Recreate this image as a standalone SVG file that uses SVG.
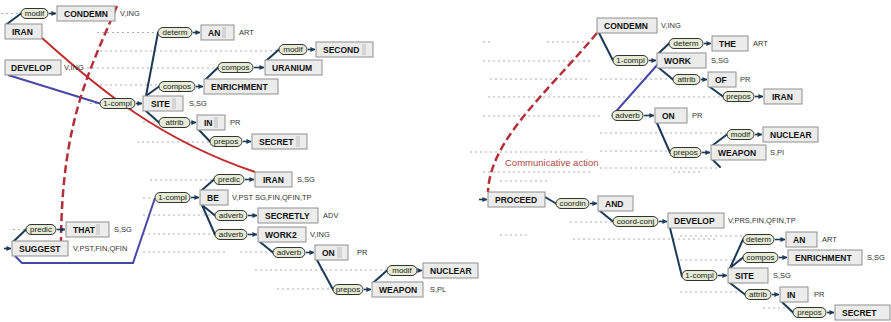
<svg xmlns="http://www.w3.org/2000/svg" width="891" height="322" viewBox="0 0 891 322">
<defs>
<marker id="ah" viewBox="0 0 6 6" refX="5.5" refY="3" markerWidth="5" markerHeight="5" markerUnits="userSpaceOnUse" orient="auto"><path d="M0,0 L6,3 L0,6 z" fill="#1c3a57"/></marker>
</defs>
<style>
.box{fill:#ececec;stroke:#8f8f8f;stroke-width:1}
.bt{font-family:"Liberation Sans",Arial,sans-serif;font-weight:bold;font-size:8.5px;fill:#111}
.cur{fill:#d4d4d4}
.lbl{font-family:"Liberation Sans",Arial,sans-serif;font-size:7.5px;fill:#333}
.pill{fill:#e5ebd5;stroke:#333;stroke-width:1}
.pt{font-family:"Liberation Sans",Arial,sans-serif;font-size:8px;fill:#222;text-anchor:middle}
.arr{stroke:#1c3a57;stroke-width:1.6;fill:none;marker-end:url(#ah)}
.tree{stroke:#1c3a57;stroke-width:2;fill:none;stroke-linecap:round}
.blue{stroke:#4848a6;stroke-width:2;fill:none}
.red{stroke:#c12d2d;stroke-width:2;fill:none}
.redd{stroke:#b3303a;stroke-width:2.5;fill:none;stroke-dasharray:8 4}
.guide{stroke:#adadad;stroke-width:1;stroke-dasharray:2 3;fill:none}
.ca{font-family:"Liberation Sans",Arial,sans-serif;font-size:9.5px;fill:#b04848}
</style>

<g id="guides">
<path class="guide" d="M1,13.5H20 M97,32.5H157 M100,51H278 M87,68H217 M100,85H158 M90,103.5H100 M143,122H158 M137,142H209 M150,180H213 M143,198H153 M143,215H214 M143,234H214 M143,252H227 M240,252H272 M255,270H386 M277,289H332 M13,229.5H25"/>
<path class="guide" d="M483,42H490 M547,42H585 M483,61H590 M490,79H590 M600,79H672 M488,97H722 M483,116H603 M600,133H726 M600,151H669 M600,168H720 M470,152H583 M483,172H593 M673,172H700 M500,181H550 M570,222H612 M500,235H527 M573,239H718 M680,236H742 M680,260H742 M680,292H745 M763,308H792"/>
</g>

<g id="connectors">
<path class="tree" d="M7,24L21,13.5 M146,96L158,32.5 M146,96L159,86.5 M206,79L218,67.5 M267,60L279,49.5 M146,111L159,122.5 M199,130L210,141.5 M202,190L214,179.5 M202,205L215,215.5 M202,205L215,234.5 M260,242L273,252.5 M317,260L333,289.5 M374,282L387,270.5 M14,241L26,229.5"/>
<path class="tree" d="M599,33L613,60.5 M659,53L669,43.5 M659,68L673,79.5 M710,87L723,96.5 M657,123L670,152.5 M713,145L727,134.5 M713,160L720,167 M545,197L556,203.5 M600,211L613,221.5 M670,228L682,276.5 M730,268L743,239.5 M730,268L743,257.5 M730,283L745,294.5 M782,302L793,312.5"/>
<path class="blue" d="M8,75L100,103.5 M15,256L22,263L133,263L155,198 M658,64L612,116"/>
<path class="red" d="M42,38C100,90 160,140 255,172"/>
<path class="redd" d="M117,6C90,70 62,120 61,241"/>
<path class="redd" d="M597,33C545,95 490,140 488,192"/>
<text class="ca" x="505" y="166">Communicative action</text>
<path class="arr" d="M4,248.5H11"/>
<path class="arr" d="M479,199.5H487"/>
</g>

<!-- LEFT TREE -->
<g id="l-condemn"><rect class="pill" x="21" y="8.5" width="27" height="10" rx="5"/><text class="pt" x="34.5" y="16.3">modif</text><path class="arr" d="M49,13.5H56"/>
<rect class="box" x="57" y="6" width="58" height="15"/><text class="bt" x="64" y="16.6">CONDEMN</text><text class="lbl" x="120" y="16.2">V,ING</text></g>
<g id="l-iran1"><rect class="box" x="5" y="24" width="37" height="15"/><text class="bt" x="12" y="34.6">IRAN</text></g>
<g id="l-develop"><rect class="box" x="5" y="60" width="56" height="15"/><text class="bt" x="11" y="70.6">DEVELOP</text><text class="lbl" x="64" y="70.2">V,ING</text></g>
<g id="l-site"><rect class="pill" x="100" y="98.5" width="35" height="10" rx="5"/><text class="pt" x="117.5" y="106.3">1-compl</text><path class="arr" d="M136,103.5H142"/>
<rect class="box" x="143" y="96" width="40" height="15"/><rect class="cur" x="172" y="98" width="4" height="11"/><text class="bt" x="151" y="106.6">SITE</text><text class="lbl" x="189" y="106.2">S,SG</text></g>
<g id="l-an"><rect class="pill" x="158" y="27.5" width="34" height="10" rx="5"/><text class="pt" x="175" y="35.3">determ</text><path class="arr" d="M193,32.5H200"/>
<rect class="box" x="201" y="25" width="33" height="15"/><rect class="cur" x="222" y="27" width="4" height="11"/><text class="bt" x="208" y="35.6">AN</text><text class="lbl" x="239" y="35.2">ART</text></g>
<g id="l-enrichment"><rect class="pill" x="159" y="81.5" width="36" height="10" rx="5"/><text class="pt" x="177" y="89.3">compos</text><path class="arr" d="M196,86.5H203"/>
<rect class="box" x="204" y="79" width="74" height="15"/><text class="bt" x="211" y="89.6">ENRICHMENT</text></g>
<g id="l-uranium"><rect class="pill" x="218" y="62.5" width="35" height="10" rx="5"/><text class="pt" x="235.5" y="70.3">compos</text><path class="arr" d="M254,67.5H264"/>
<rect class="box" x="265" y="60" width="57" height="15"/><text class="bt" x="272" y="70.6">URANIUM</text></g>
<g id="l-second"><rect class="pill" x="279" y="44.5" width="28" height="10" rx="5"/><text class="pt" x="293" y="52.3">modif</text><path class="arr" d="M308,49.5H315"/>
<rect class="box" x="316" y="42" width="57" height="15"/><rect class="cur" x="362" y="44" width="4" height="11"/><text class="bt" x="323" y="52.6">SECOND</text></g>
<g id="l-in"><rect class="pill" x="159" y="117.5" width="31" height="10" rx="5"/><text class="pt" x="174.5" y="125.3">attrib</text><path class="arr" d="M191,122.5H196"/>
<rect class="box" x="197" y="115" width="28" height="15"/><rect class="cur" x="214" y="117" width="4" height="11"/><text class="bt" x="204" y="125.6">IN</text><text class="lbl" x="230" y="125.2">PR</text></g>
<g id="l-secret"><rect class="pill" x="210" y="136.5" width="32" height="10" rx="5"/><text class="pt" x="226" y="144.3">prepos</text><path class="arr" d="M243,141.5H251"/>
<rect class="box" x="252" y="134" width="55" height="15"/><rect class="cur" x="296" y="136" width="4" height="11"/><text class="bt" x="259" y="144.6">SECRET</text></g>
<g id="l-iran2"><rect class="pill" x="214" y="174.5" width="30" height="10" rx="5"/><text class="pt" x="229" y="182.3">predic</text><path class="arr" d="M245,179.5H254"/>
<rect class="box" x="255" y="172" width="37" height="15"/><text class="bt" x="263" y="182.6">IRAN</text><text class="lbl" x="297" y="182.2">S,SG</text></g>
<g id="l-be"><rect class="pill" x="155" y="192.5" width="35" height="10" rx="5"/><text class="pt" x="172.5" y="200.3">1-compl</text><path class="arr" d="M191,197.5H199"/>
<rect class="box" x="200" y="190" width="28" height="15"/><text class="bt" x="207" y="200.6">BE</text><text class="lbl" x="232" y="200.2">V,PST SG,FIN,QFIN,TP</text></g>
<g id="l-secretly"><rect class="pill" x="215" y="210.5" width="32" height="10" rx="5"/><text class="pt" x="231" y="218.3">adverb</text><path class="arr" d="M248,215.5H257"/>
<rect class="box" x="258" y="208" width="60" height="15"/><text class="bt" x="265" y="218.6">SECRETLY</text><text class="lbl" x="323" y="218.2">ADV</text></g>
<g id="l-work2"><rect class="pill" x="215" y="229.5" width="32" height="10" rx="5"/><text class="pt" x="231" y="237.3">adverb</text><path class="arr" d="M248,234.5H257"/>
<rect class="box" x="258" y="227" width="48" height="15"/><text class="bt" x="265" y="237.6">WORK2</text><text class="lbl" x="310" y="237.2">V,ING</text></g>
<g id="l-on"><rect class="pill" x="273" y="247.5" width="32" height="10" rx="5"/><text class="pt" x="289" y="255.3">adverb</text><path class="arr" d="M306,252.5H314"/>
<rect class="box" x="315" y="245" width="33" height="15"/><rect class="cur" x="337" y="247" width="5" height="11"/><text class="bt" x="322" y="255.6">ON</text><text class="lbl" x="357" y="255.2">PR</text></g>
<g id="l-nuclear"><rect class="pill" x="387" y="265.5" width="30" height="10" rx="5"/><text class="pt" x="402" y="273.3">modif</text><path class="arr" d="M418,270.5H422"/>
<rect class="box" x="423" y="263" width="55" height="15"/><text class="bt" x="430" y="273.6">NUCLEAR</text></g>
<g id="l-weapon"><rect class="pill" x="333" y="284.5" width="30" height="10" rx="5"/><text class="pt" x="348" y="292.3">prepos</text><path class="arr" d="M364,289.5H371"/>
<rect class="box" x="372" y="282" width="51" height="15"/><text class="bt" x="379" y="292.6">WEAPON</text><text class="lbl" x="430" y="292.2">S,PL</text></g>
<g id="l-that"><rect class="pill" x="26" y="224.5" width="30" height="10" rx="5"/><text class="pt" x="41" y="232.3">predic</text><path class="arr" d="M57,229.5H65"/>
<rect class="box" x="66" y="222" width="43" height="15"/><rect class="cur" x="96" y="224" width="4" height="11"/><text class="bt" x="73" y="232.6">THAT</text><text class="lbl" x="114" y="232.2">S,SG</text></g>
<g id="l-suggest"><rect class="box" x="12" y="241" width="56" height="15"/><text class="bt" x="19" y="251.6">SUGGEST</text><text class="lbl" x="73" y="251.2">V,PST,FIN,QFIN</text></g>

<!-- RIGHT TREE -->
<g id="r-condemn"><rect class="box" x="597" y="18" width="60" height="15"/><text class="bt" x="604" y="28.6">CONDEMN</text><text class="lbl" x="661" y="28.2">V,ING</text></g>
<g id="r-the"><rect class="pill" x="669" y="38.5" width="34" height="10" rx="5"/><text class="pt" x="686" y="46.3">determ</text><path class="arr" d="M704,43.5H711"/>
<rect class="box" x="712" y="36" width="36" height="15"/><text class="bt" x="719" y="46.6">THE</text><text class="lbl" x="753" y="46.2">ART</text></g>
<g id="r-work"><rect class="pill" x="613" y="55.5" width="35" height="10" rx="5"/><text class="pt" x="630.5" y="63.3">1-compl</text><path class="arr" d="M649,60.5H656"/>
<rect class="box" x="657" y="53" width="49" height="15"/><text class="bt" x="664" y="63.6">WORK</text><text class="lbl" x="711" y="63.2">S,SG</text></g>
<g id="r-of"><rect class="pill" x="673" y="74.5" width="27" height="10" rx="5"/><text class="pt" x="686.5" y="82.3">attrib</text><path class="arr" d="M701,79.5H707"/>
<rect class="box" x="708" y="72" width="28" height="15"/><text class="bt" x="715" y="82.6">OF</text><text class="lbl" x="740" y="82.2">PR</text></g>
<g id="r-iran"><rect class="pill" x="723" y="91.5" width="31" height="10" rx="5"/><text class="pt" x="738.5" y="99.3">prepos</text><path class="arr" d="M755,96.5H763"/>
<rect class="box" x="764" y="89" width="38" height="15"/><text class="bt" x="772" y="99.6">IRAN</text></g>
<g id="r-on"><rect class="pill" x="612" y="110.5" width="31" height="10" rx="5"/><text class="pt" x="627.5" y="118.3">adverb</text><path class="arr" d="M644,115.5H654"/>
<rect class="box" x="655" y="108" width="32" height="15"/><text class="bt" x="662" y="118.6">ON</text><text class="lbl" x="692" y="118.2">PR</text></g>
<g id="r-nuclear"><rect class="pill" x="727" y="129.5" width="27" height="10" rx="5"/><text class="pt" x="740.5" y="137.3">modif</text><path class="arr" d="M755,134.5H762"/>
<rect class="box" x="763" y="127" width="55" height="15"/><text class="bt" x="770" y="137.6">NUCLEAR</text></g>
<g id="r-weapon"><rect class="pill" x="670" y="147.5" width="31" height="10" rx="5"/><text class="pt" x="685.5" y="155.3">prepos</text><path class="arr" d="M702,152.5H710"/>
<rect class="box" x="711" y="145" width="55" height="15"/><text class="bt" x="718" y="155.6">WEAPON</text><text class="lbl" x="770" y="155.2">S,PI</text></g>
<g id="r-proceed"><rect class="box" x="488" y="192" width="57" height="15"/><text class="bt" x="495" y="202.6">PROCEED</text></g>
<g id="r-and"><rect class="pill" x="556" y="198.5" width="33" height="10" rx="5"/><text class="pt" x="572.5" y="206.3">coordin</text><path class="arr" d="M590,203.5H597"/>
<rect class="box" x="598" y="196" width="35" height="15"/><text class="bt" x="605" y="206.6">AND</text></g>
<g id="r-develop"><rect class="pill" x="613" y="216.5" width="45" height="10" rx="5"/><text class="pt" x="635.5" y="224.3">coord-conj</text><path class="arr" d="M659,221.5H667"/>
<rect class="box" x="668" y="213" width="56" height="15"/><text class="bt" x="674" y="223.6">DEVELOP</text><text class="lbl" x="728" y="223.2">V,PRS,FIN,QFIN,TP</text></g>
<g id="r-an"><rect class="pill" x="743" y="234.5" width="31" height="10" rx="5"/><text class="pt" x="758.5" y="242.3">determ</text><path class="arr" d="M775,239.5H785"/>
<rect class="box" x="786" y="232" width="31" height="15"/><text class="bt" x="793" y="242.6">AN</text><text class="lbl" x="822" y="242.2">ART</text></g>
<g id="r-enrichment"><rect class="pill" x="743" y="252.5" width="35" height="10" rx="5"/><text class="pt" x="760.5" y="260.3">compos</text><path class="arr" d="M779,257.5H787"/>
<rect class="box" x="788" y="250" width="74" height="15"/><text class="bt" x="795" y="260.6">ENRICHMENT</text><text class="lbl" x="867" y="260.2">S,SG</text></g>
<g id="r-site"><rect class="pill" x="682" y="270.5" width="35" height="10" rx="5"/><text class="pt" x="699.5" y="278.3">1-compl</text><path class="arr" d="M718,275.5H727"/>
<rect class="box" x="728" y="268" width="40" height="15"/><text class="bt" x="735" y="278.6">SITE</text><text class="lbl" x="773" y="278.2">S,SG</text></g>
<g id="r-in"><rect class="pill" x="745" y="289.5" width="26" height="10" rx="5"/><text class="pt" x="758" y="297.3">attrib</text><path class="arr" d="M772,294.5H779"/>
<rect class="box" x="780" y="287" width="28" height="15"/><text class="bt" x="787" y="297.6">IN</text><text class="lbl" x="814" y="297.2">PR</text></g>
<g id="r-secret"><rect class="pill" x="793" y="307.5" width="33" height="10" rx="5"/><text class="pt" x="809.5" y="315.3">prepos</text><path class="arr" d="M827,312.5H834"/>
<rect class="box" x="835" y="305" width="55" height="15"/><text class="bt" x="842" y="315.6">SECRET</text></g>
</svg>
